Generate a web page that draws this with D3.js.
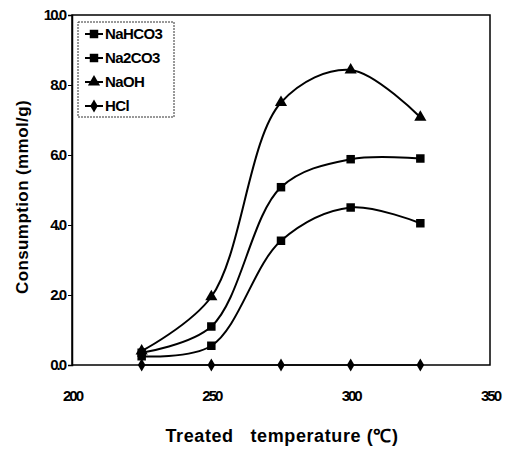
<!DOCTYPE html>
<html><head><meta charset="utf-8">
<script src="https://cdn.jsdelivr.net/npm/d3@7"></script>
<style>body{margin:0;background:#fff}svg{display:block}text{font-family:"Liberation Sans",Arial,sans-serif;font-weight:bold;fill:#000}</style>
</head><body><svg id="c" width="506" height="450"></svg>
<script>
const temps = [225, 250, 275, 300, 325];
const naHCO3 = [0.25, 0.55, 3.55, 4.5, 4.05];
const na2CO3 = [0.35, 1.1, 5.08, 5.88, 5.9];
const naOH = [0.4, 1.95, 7.5, 8.43, 7.08];
const hCl = [0, 0, 0, 0, 0];
const seriesNames = ["NaHCO3", "Na2CO3", "NaOH", "HCl"];
const xTicks = [200, 250, 300, 350];
const yTicks = [0, 2, 4, 6, 8, 10];

const svg = d3.select("#c");
const L = 72, R = 490, T = 15, B = 365;
const x = d3.scaleLinear().domain([200, 350]).range([L, R]);
const y = d3.scaleLinear().domain([0, 10]).range([B, T]);

// frame
svg.append("rect").attr("x", L).attr("y", T).attr("width", R - L).attr("height", B - T)
  .attr("fill", "none").attr("stroke", "#000").attr("stroke-width", 1.5);

// y axis
const ya = svg.append("g").attr("transform", `translate(${L},0)`)
  .call(d3.axisLeft(y).tickValues(yTicks).tickFormat(d3.format(".1f")).tickSize(4).tickPadding(3));
ya.select(".domain").attr("stroke-width", 1.5);
ya.selectAll("text").style("font-size", "15px").attr("letter-spacing", "-2");
// x axis labels
const xa = svg.append("g").attr("transform", `translate(0,${B})`)
  .call(d3.axisBottom(x).tickValues(xTicks).tickFormat(d3.format("d")).tickSize(0).tickPadding(25));
xa.select(".domain").remove();
xa.selectAll("text").style("font-size", "15px").attr("letter-spacing", "-2");

svg.append("text").attr("x", 282).attr("y", 442).attr("text-anchor", "middle")
  .style("font-size", "18px").attr("letter-spacing", "0.6").attr("xml:space", "preserve").text("Treated   temperature (\u2103)");
svg.append("text").attr("transform", "translate(28,197) rotate(-90)").attr("text-anchor", "middle")
  .style("font-size", "17px").attr("letter-spacing", "0.4").text("Consumption (mmol/g)");

const seriesVals = [naHCO3, na2CO3, naOH, hCl];
const symTypes = [d3.symbolSquare, d3.symbolSquare, d3.symbolTriangle, d3.symbolDiamond];
const symSizes = [72, 72, 64, 50];
const line = d3.line().x(d => x(d[0])).y(d => y(d[1])).curve(d3.curveCatmullRom.alpha(0.5));

seriesVals.forEach((vals, i) => {
  const pts = temps.map((t, j) => [t, vals[j]]);
  svg.append("path").attr("d", line(pts)).attr("fill", "none").attr("stroke", "#000")
    .attr("stroke-width", i === 3 ? 1.5 : 2);
  svg.selectAll(null).data(pts).enter().append("path")
    .attr("d", d3.symbol().type(symTypes[i]).size(symSizes[i]))
    .attr("transform", d => `translate(${x(d[0])},${y(d[1])})`).attr("fill", "#000");
});

// legend
const lg = svg.append("g");
lg.append("rect").attr("x", 78).attr("y", 22).attr("width", 96).attr("height", 95)
  .attr("fill", "#fff").attr("stroke", "#333").attr("stroke-width", 1).attr("stroke-dasharray", "2,1");
seriesNames.forEach((n, i) => {
  const yy = 34 + i * 24;
  lg.append("line").attr("x1", 85).attr("x2", 103).attr("y1", yy).attr("y2", yy).attr("stroke", "#000").attr("stroke-width", 2);
  lg.append("path").attr("d", d3.symbol().type(symTypes[i]).size(symSizes[i]))
    .attr("transform", `translate(94,${yy})`).attr("fill", "#000");
  lg.append("text").attr("x", 105).attr("y", yy + 5).style("font-size", "15px").attr("letter-spacing", "-0.6").text(n);
});
</script></body></html>
